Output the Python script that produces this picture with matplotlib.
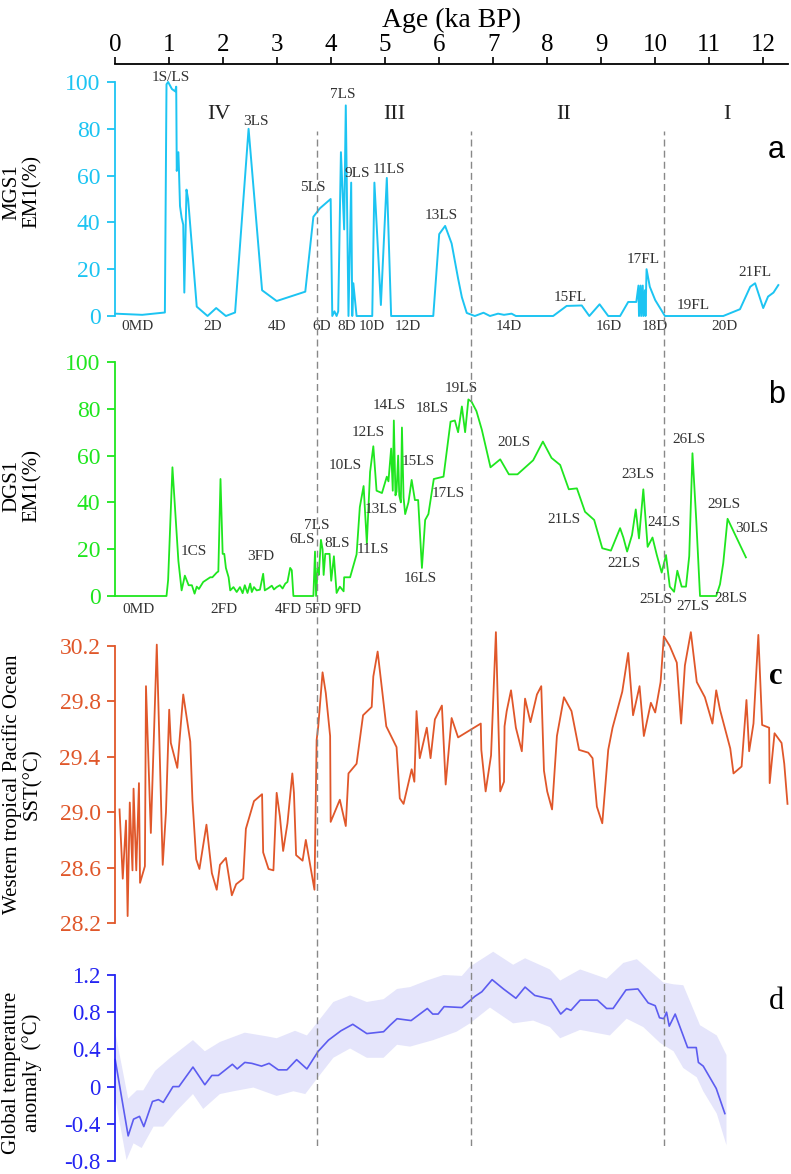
import numpy as np
import matplotlib.pyplot as plt

plt.rcParams['font.family'] = ['Liberation Serif', 'DejaVu Sans']
plt.rcParams['axes.unicode_minus'] = False

# ---- panel a: MGS1 EM1 (%)
a_age = [0.00, 0.50, 0.92, 0.95, 0.98, 1.05, 1.11, 1.13, 1.14, 1.17,
         1.18, 1.20, 1.23, 1.26, 1.28, 1.32, 1.35, 1.51, 1.71, 1.87,
         2.05, 2.22, 2.47, 2.72, 2.99, 3.52, 3.67, 3.79, 3.99, 4.02,
         4.06, 4.10, 4.13, 4.18, 4.24, 4.27, 4.32, 4.37, 4.39, 4.41,
         4.47, 4.76, 4.80, 4.92, 5.03, 5.11, 5.89, 6.00, 6.11, 6.23,
         6.35, 6.42, 6.51, 6.66, 6.82, 6.94, 7.09, 7.20, 7.34, 7.42,
         8.11, 8.36, 8.64, 8.78, 8.97, 9.13, 9.35, 9.50, 9.65, 9.69,
         9.70, 9.73, 9.74, 9.77, 9.78, 9.81, 9.82, 9.84, 9.90, 10.00,
         10.18, 11.26, 11.57, 11.76, 11.85, 12.00, 12.09, 12.19, 12.28]
a_val = [1, 0.5, 1.5, 99, 100, 97, 96, 98, 62, 70,
         63, 47, 42, 39, 10, 54, 50, 4, 0, 3.4,
         0, 1.5, 80, 11, 6.4, 10.4, 42.4, 46, 50, 0,
         2, 0, 2, 70, 37, 90, 0, 57, 0, 14,
         0, 0, 57, 4.7, 59, 0, 0, 35, 38.5, 31,
         16, 8, 1.3, 0, 1.4, 0, 1, 0.5, 1, 0,
         0, 4.3, 4.5, 0, 5, 0, 0, 6, 6, 13,
         0, 13, 0, 13, 0, 11, 0, 20, 12.5, 6.8,
         0, 0, 2.9, 12.5, 14, 3.4, 8.3, 10, 13.2]

# ---- panel b: DGS1 EM1 (%)
b_age = [0.00, 0.95, 0.98, 1.06, 1.17, 1.23, 1.29, 1.36, 1.42, 1.47,
         1.51, 1.55, 1.63, 1.76, 1.80, 1.88, 1.91, 1.95, 1.99, 2.02,
         2.05, 2.10, 2.13, 2.19, 2.25, 2.31, 2.36, 2.40, 2.45, 2.50,
         2.53, 2.57, 2.62, 2.68, 2.74, 2.77, 2.84, 2.90, 2.94, 2.99,
         3.05, 3.10, 3.15, 3.19, 3.24, 3.27, 3.30, 3.67, 3.70, 3.72,
         3.75, 3.77, 3.81, 3.84, 3.86, 3.89, 3.97, 4.00, 4.05, 4.10,
         4.16, 4.23, 4.24, 4.35, 4.47, 4.53, 4.60, 4.66, 4.72, 4.78,
         4.84, 4.94, 5.03, 5.06, 5.11, 5.14, 5.16, 5.19, 5.21, 5.24,
         5.26, 5.29, 5.31, 5.34, 5.37, 5.43, 5.49, 5.55, 5.61, 5.68,
         5.74, 5.80, 5.90, 6.08, 6.21, 6.29, 6.35, 6.42, 6.48, 6.54,
         6.60, 6.69, 6.79, 6.95, 7.13, 7.29, 7.45, 7.74, 7.92, 8.08,
         8.24, 8.40, 8.55, 8.70, 8.87, 9.02, 9.18, 9.35, 9.41, 9.48,
         9.57, 9.64, 9.70, 9.78, 9.86, 9.95, 10.03, 10.12, 10.20, 10.27,
         10.35, 10.41, 10.49, 10.57, 10.63, 10.69, 10.76, 10.83, 11.13, 11.20,
         11.26, 11.34, 11.68]
b_val = [0, 0, 6.8, 55, 15, 2.4, 8.7, 4.6, 4.6, 1,
         4, 3, 6, 8, 8, 10, 10.5, 50, 18, 18,
         12, 8, 2.4, 3.8, 1.7, 3.8, 1.2, 4.6, 1.3, 5.3,
         1.7, 3.8, 2.4, 2.7, 9.5, 2.4, 3.4, 4.4, 2.8, 3.8,
         4.6, 3.2, 5.3, 6, 12, 11, 0, 0, 19, 0,
         12, 9, 24, 20, 9, 18, 18, 6.5, 17, 1.3,
         4, 2, 8, 8, 17.8, 38, 47, 22.5, 53, 64,
         45, 44, 51, 49, 63, 45, 75, 43, 44.6, 60,
         43, 40, 72, 42, 35, 40, 49.6, 41, 41, 12,
         32.5, 35, 50, 51, 74.5, 75, 70, 81, 70, 84,
         83, 79, 71, 55, 58.4, 52, 52, 58, 66, 59,
         56, 45.6, 46, 36, 32.5, 20.4, 19.4, 29, 25, 19,
         26, 37, 24.6, 45.6, 21, 25, 17.5, 10, 17.5, 4,
         1.8, 10.8, 4, 4, 17, 61, 32.5, 0, 0, 5,
         14, 33, 16.5]

# ---- panel c: Western tropical Pacific SST
c_age = [0.08, 0.14, 0.20, 0.23, 0.27, 0.32, 0.34, 0.39, 0.44, 0.46,
         0.55, 0.57, 0.66, 0.77, 0.88, 0.94, 1.00, 1.03, 1.15, 1.26,
         1.39, 1.43, 1.50, 1.56, 1.69, 1.79, 1.88, 1.94, 2.05, 2.16,
         2.24, 2.37, 2.42, 2.57, 2.72, 2.74, 2.84, 2.93, 2.99, 3.05,
         3.11, 3.19, 3.28, 3.31, 3.35, 3.47, 3.53, 3.69, 3.73, 3.76,
         3.84, 3.90, 3.98, 3.99, 4.16, 4.27, 4.32, 4.47, 4.59, 4.75,
         4.78, 4.86, 5.02, 5.21, 5.27, 5.34, 5.49, 5.54, 5.58, 5.64,
         5.77, 5.84, 5.92, 6.05, 6.12, 6.23, 6.35, 6.77, 6.78, 6.86,
         6.96, 7.00, 7.05, 7.13, 7.20, 7.21, 7.25, 7.33, 7.42, 7.53,
         7.59, 7.69, 7.81, 7.89, 7.94, 8.00, 8.09, 8.18, 8.31, 8.45,
         8.59, 8.76, 8.84, 8.92, 9.02, 9.13, 9.21, 9.39, 9.50, 9.59,
         9.71, 9.79, 9.92, 10.00, 10.10, 10.16, 10.27, 10.40, 10.48, 10.55,
         10.66, 10.77, 10.92, 11.06, 11.13, 11.20, 11.39, 11.45, 11.60, 11.69,
         11.74, 11.82, 11.91, 11.98, 12.11, 12.12, 12.21, 12.34, 12.39, 12.45]
c_val = [29.02, 28.52, 28.94, 28.25, 29.07, 28.58, 29.17, 28.58, 29.21, 28.49,
         28.61, 29.91, 28.85, 30.21, 28.62, 29.00, 29.74, 29.50, 29.32, 29.85,
         29.51, 29.09, 28.66, 28.59, 28.91, 28.56, 28.44, 28.62, 28.67, 28.40,
         28.48, 28.52, 28.88, 29.08, 29.13, 28.71, 28.59, 28.58, 29.14, 28.97,
         28.72, 28.92, 29.28, 29.14, 28.69, 28.65, 28.80, 28.44, 29.52, 29.62,
         30.01, 29.86, 29.55, 28.93, 29.09, 28.90, 29.28, 29.35, 29.70, 29.76,
         29.98, 30.16, 29.62, 29.47, 29.10, 29.06, 29.31, 29.22, 29.73, 29.39,
         29.61, 29.39, 29.67, 29.77, 29.20, 29.68, 29.54, 29.64, 29.45, 29.15,
         29.41, 29.81, 30.30, 29.15, 29.22, 29.62, 29.73, 29.88, 29.61, 29.44,
         29.82, 29.65, 29.85, 29.91, 29.30, 29.15, 29.02, 29.55, 29.83, 29.73,
         29.45, 29.43, 29.39, 29.04, 28.92, 29.45, 29.61, 29.87, 30.15, 29.70,
         29.91, 29.55, 29.79, 29.72, 29.94, 30.27, 30.20, 30.08, 29.64, 30.06,
         30.30, 29.94, 29.83, 29.64, 29.88, 29.74, 29.46, 29.28, 29.33, 29.81,
         29.44, 29.64, 30.28, 29.63, 29.61, 29.21, 29.57, 29.50, 29.35, 29.06]

# ---- panel d: global temperature anomaly with uncertainty band
d_age = [0.00, 0.24, 0.34, 0.45, 0.53, 0.69, 0.80, 0.89, 1.07, 1.18,
         1.44, 1.66, 1.79, 1.91, 2.17, 2.26, 2.40, 2.53, 2.71, 2.85,
         3.02, 3.18, 3.36, 3.55, 3.76, 3.95, 4.18, 4.40, 4.66, 4.97,
         5.09, 5.22, 5.48, 5.78, 5.88, 5.98, 6.09, 6.42, 6.66, 6.79,
         6.98, 7.19, 7.42, 7.59, 7.77, 8.07, 8.25, 8.36, 8.44, 8.61,
         8.93, 9.10, 9.22, 9.46, 9.68, 9.87, 10.00, 10.08, 10.16, 10.21,
         10.26, 10.37, 10.60, 10.76, 10.80, 10.89, 11.13, 11.29]
d_val = [0.29, -0.53, -0.35, -0.32, -0.43, -0.16, -0.14, -0.17, 0.00, 0.00,
         0.21, 0.02, 0.12, 0.12, 0.24, 0.19, 0.26, 0.25, 0.22, 0.25,
         0.18, 0.18, 0.29, 0.19, 0.38, 0.50, 0.60, 0.67, 0.57, 0.59,
         0.66, 0.73, 0.71, 0.84, 0.78, 0.78, 0.86, 0.85, 0.97, 1.02,
         1.15, 1.05, 0.95, 1.07, 0.98, 0.94, 0.78, 0.84, 0.82, 0.93,
         0.93, 0.84, 0.84, 1.04, 1.05, 0.90, 0.87, 0.74, 0.73, 0.80,
         0.65, 0.78, 0.42, 0.42, 0.26, 0.22, -0.02, -0.29]
du_age = [0.00, 0.24, 0.40, 0.52, 0.74, 1.02, 1.44, 1.66, 1.94, 2.40,
          2.81, 2.99, 3.33, 3.55, 3.73, 4.04, 4.35, 4.66, 4.97, 5.22,
          5.46, 5.77, 6.08, 6.42, 6.57, 7.00, 7.37, 7.59, 8.05, 8.24,
          8.61, 9.10, 9.41, 9.66, 10.15, 10.34, 10.52, 10.83, 11.14, 11.32]
du_val = [0.59, -0.13, -0.04, -0.04, 0.17, 0.31, 0.50, 0.38, 0.48, 0.58,
          0.54, 0.52, 0.60, 0.55, 0.68, 0.91, 0.98, 0.91, 0.94, 1.05,
          1.07, 1.14, 1.20, 1.19, 1.29, 1.45, 1.31, 1.38, 1.26, 1.14,
          1.26, 1.16, 1.33, 1.37, 1.12, 1.10, 1.09, 0.66, 0.55, 0.34]
dl_age = [0.00, 0.21, 0.34, 0.49, 0.71, 0.89, 1.14, 1.44, 1.63, 1.94,
          2.19, 2.56, 2.99, 3.30, 3.52, 3.73, 4.04, 4.35, 4.66, 4.97,
          5.22, 5.46, 5.89, 6.32, 6.57, 6.94, 7.37, 7.74, 8.05, 8.24,
          8.61, 9.16, 9.47, 9.78, 10.09, 10.34, 10.52, 10.77, 10.89, 11.14,
          11.32]
dl_val = [-0.12, -0.79, -0.61, -0.66, -0.43, -0.43, -0.26, -0.08, -0.24, -0.08,
          -0.05, -0.01, -0.10, -0.05, -0.08, 0.08, 0.31, 0.41, 0.31, 0.31,
          0.45, 0.43, 0.50, 0.59, 0.68, 0.85, 0.68, 0.71, 0.64, 0.52,
          0.61, 0.55, 0.73, 0.64, 0.47, 0.38, 0.20, 0.10, -0.05, -0.29,
          -0.63]

# stage boundaries (ka BP)
boundaries = [3.74, 6.59, 10.16]

# sample labels: (text, age, value)
a_labels = [("1S/LS", 1.03, 102), ("3LS", 2.61, 83), ("5LS", 3.66, 55),
            ("7LS", 4.22, 94.5), ("9LS", 4.48, 61), ("11LS", 5.07, 62.5),
            ("13LS", 6.03, 43), ("15FL", 8.42, 8), ("17FL", 9.77, 24),
            ("19FL", 10.70, 4.7), ("21FL", 11.85, 18.5),
            ("0MD", 0.42, -4.3), ("2D", 1.81, -4.3), ("4D", 3.0, -4.3),
            ("6D", 3.83, -4.3), ("8D", 4.29, -4.3), ("10D", 4.76, -4.3),
            ("12D", 5.42, -4.3), ("14D", 7.29, -4.3), ("16D", 9.14, -4.3),
            ("18D", 10.0, -4.3), ("20D", 11.29, -4.3)]
stages = [("IV", 1.92), ("III", 5.16), ("II", 8.31), ("I", 11.33)]
b_labels = [("1CS", 1.46, 19), ("3FD", 2.70, 16.7), ("6LS", 3.46, 24),
            ("7LS", 3.74, 30.3), ("8LS", 4.11, 22.6), ("10LS", 4.26, 55.6),
            ("11LS", 4.77, 20), ("12LS", 4.68, 70), ("13LS", 4.92, 36.8),
            ("14LS", 5.07, 81.2), ("15LS", 5.61, 57.3), ("16LS", 5.64, 7.3),
            ("17LS", 6.16, 43.6), ("18LS", 5.87, 80), ("19LS", 6.40, 88.5),
            ("20LS", 7.39, 65.4), ("21LS", 8.31, 32.5), ("22LS", 9.42, 13.7),
            ("23LS", 9.68, 52), ("24LS", 10.16, 31.2), ("25LS", 10.02, -1.7),
            ("26LS", 10.63, 67), ("27LS", 10.70, -4.3), ("28LS", 11.40, -0.9),
            ("29LS", 11.27, 39), ("30LS", 11.79, 29),
            ("0MD", 0.44, -5.6), ("2FD", 2.02, -5.6), ("4FD", 3.20, -5.6),
            ("5FD", 3.74, -5.6), ("9FD", 4.31, -5.6)]

cyan = '#1cc4f2'
green = '#1fe61f'
orange = '#e0572a'
blue = '#2424f2'
blue_line = '#5c5cf0'
band = '#e5e5fb'
txt = '#333333'

W, H = 791, 1174
X_LEFT, X_RIGHT = 115.2, 788.0
XMAX = (X_RIGHT - X_LEFT) / 54.0

fig = plt.figure(figsize=(W / 100, H / 100), dpi=100)


def box(top, bottom, left=X_LEFT, right=X_RIGHT):
    return [left / W, 1 - bottom / H, (right - left) / W, (bottom - top) / H]


def panel(top, bottom, ylim, ticks, ticklabels, color, size=17):
    ax = fig.add_axes(box(top, bottom))
    ax.set_xlim(0, XMAX)
    ax.set_ylim(*ylim)
    for s in ['top', 'right', 'bottom']:
        ax.spines[s].set_visible(False)
    ax.spines['left'].set_color(color)
    ax.spines['left'].set_linewidth(1.3)
    ax.set_xticks([])
    ax.set_yticks(ticks)
    ax.set_yticklabels(ticklabels)
    ax.tick_params(axis='y', colors=color, length=5.5, width=1.3, pad=5, labelsize=size)
    ax.patch.set_visible(False)
    return ax


# top age axis
axt = fig.add_axes(box(64, 80))
axt.set_xlim(0, XMAX)
for s in ['bottom', 'left', 'right']:
    axt.spines[s].set_visible(False)
axt.spines['top'].set_linewidth(1.3)
axt.set_yticks([])
axt.xaxis.tick_top()
axt.set_xticks(range(13))
axt.tick_params(axis='x', length=5, width=1.2, pad=1, labelsize=18)
axt.xaxis.set_label_position('top')
axt.set_xlabel('Age (ka BP)', fontsize=20, labelpad=5)
axt.patch.set_visible(False)

# a
axa = panel(82, 316, (0, 100), [0, 20, 40, 60, 80, 100],
            ['0', '20', '40', '60', '80', '100'], cyan)
axa.plot(a_age, a_val, color=cyan, lw=1.4, clip_on=False)
for t, x, y in a_labels:
    axa.text(x, y, t, fontsize=11, color=txt, ha='center', va='center')
for t, x in stages:
    axa.text(x, 86, t, fontsize=16, color='#222222', ha='center', va='center')
axa.text(12.24, 71, 'a', fontsize=22, family='Liberation Sans', ha='center', va='center')

# b
axb = panel(362, 596, (0, 100), [0, 20, 40, 60, 80, 100],
            ['0', '20', '40', '60', '80', '100'], green)
axb.plot(b_age, b_val, color=green, lw=1.3, clip_on=False)
for t, x, y in b_labels:
    axb.text(x, y, t, fontsize=11, color=txt, ha='center', va='center')
axb.text(12.24, 86, 'b', fontsize=22, family='Liberation Sans', ha='center', va='center')

# c
axc = panel(646, 923, (28.2, 30.2), [28.2, 28.6, 29.0, 29.4, 29.8, 30.2],
            ['28.2', '28.6', '29.0', '29.4', '29.8', '30.2'], orange)
axc.plot(c_age, c_val, color=orange, lw=1.3, clip_on=False)
axc.text(12.24, 29.98, 'c', fontsize=22, fontweight='bold', ha='center', va='center')

# d
axd = panel(975, 1161, (-0.8, 1.2), [-0.8, -0.4, 0, 0.4, 0.8, 1.2],
            ['-0.8', '-0.4', '0', '0.4', '0.8', '1.2'], blue, size=16.5)
axd.fill(np.r_[du_age, dl_age[::-1]], np.r_[du_val, dl_val[::-1]],
         color=band, lw=0, clip_on=False, zorder=1)
axd.plot(d_age, d_val, color=blue_line, lw=1.2, clip_on=False, zorder=2)
axd.text(12.24, 0.91, 'd', fontsize=22, ha='center', va='center')

# dashed stage boundaries across panels
axv = fig.add_axes(box(131, 1146))
axv.set_xlim(0, XMAX)
axv.set_ylim(0, 1)
axv.axis('off')
for b in boundaries:
    axv.axvline(b, color='#888888', lw=1.0, ls=(0, (5, 3)))

# y labels
ylabs = [("MGS1\nEM1(%)", 192), ("DGS1\nEM1(%)", 486),
         ("Western tropical Pacific Ocean\nSST(°C)", 784),
         ("Global temperature\nanomaly  (°C)", 1073)]
for t, yc in ylabs:
    fig.text(22 / W, 1 - yc / H, t, rotation=90, ha='center', va='center',
             fontsize=15, linespacing=1.1, multialignment='center')

fig.savefig('out.png', dpi=100)
